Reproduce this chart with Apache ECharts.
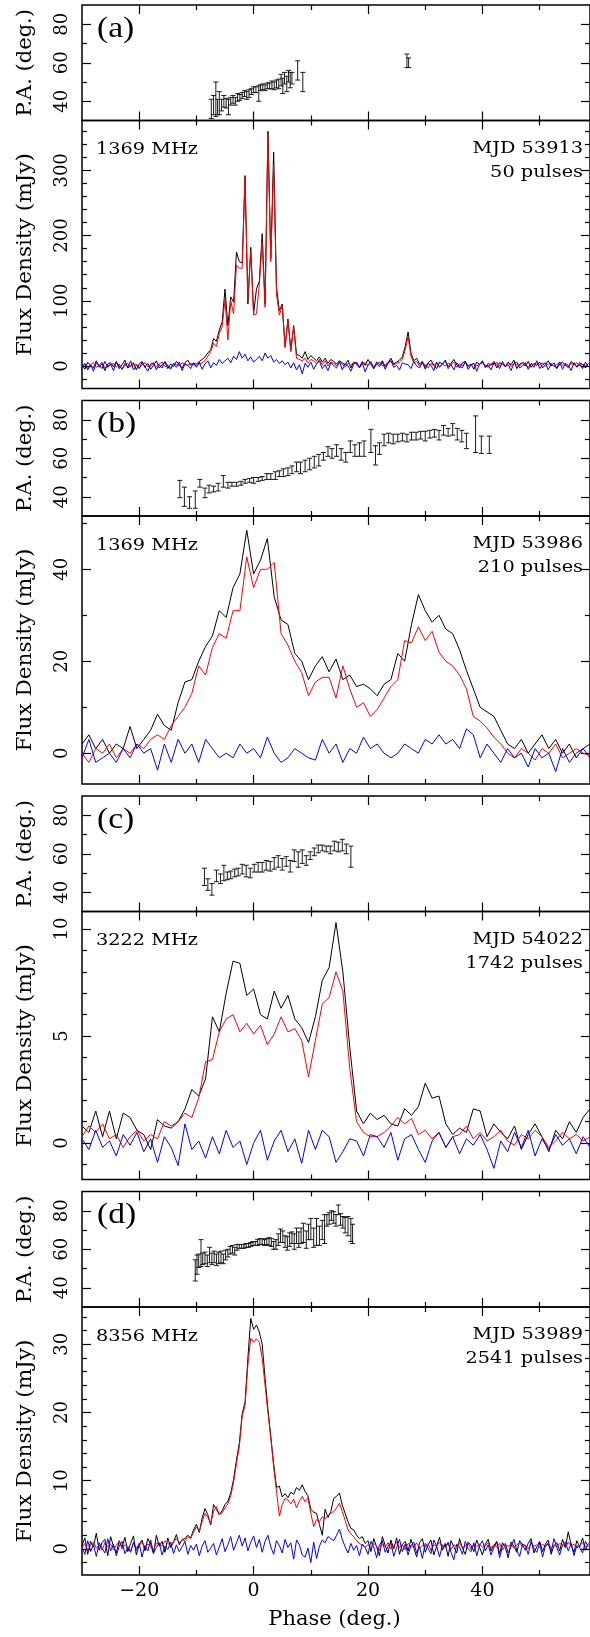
<!DOCTYPE html>
<html><head><meta charset="utf-8">
<script src="https://cdn.jsdelivr.net/npm/echarts@6/dist/echarts.min.js"></script>
<style>html,body{margin:0;padding:0;background:#fff}#c{width:590px;height:1637px}</style>
</head><body><div id="c"></div>
<script>
// ---------------- DATA ----------------
// Phase grids (bin start / bin width, degrees)
const binA = {start: -30, step: 0.5};
const binB = {start: -30, step: 1.2};
const binC = {start: -30, step: 1.2};
const binD = {start: -30, step: 0.5};

// (a) 1369 MHz, MJD 53913 — total intensity (black), linear (red), circular (blue), mJy
const iA = [2,-5,6,1,-3,8,-2,4,-7,3,5,-1,7,-4,2,9,-3,0,5,-6,
 3,7,-2,4,-5,1,8,-3,2,6,-4,3,-1,7,2,-3,5,9,1,4,
 3,7,10,14,20,25,42,38,55,68,118,62,106,98,175,160,158,292,95,182,
 80,118,130,203,95,360,165,328,120,85,95,30,72,25,62,18,16,12,22,10,
 16,12,8,14,6,12,4,10,7,3,8,5,2,9,-3,6,4,-2,7,1,
 10,3,-4,6,2,8,-1,5,12,3,6,9,14,30,52,20,8,12,3,7,
 -2,5,9,1,-4,6,3,8,-1,4,10,2,-3,5,7,0,3,-5,6,2,
 8,-2,4,1,7,-3,5,3,-1,6,2,9,-4,3,5,0,7,-2,4,1,
 6,-3,2,8,0,5,-4,3,6,1,-2,7,3,-1,5,2,-3,4];
const lA = [-1,3,-4,2,5,-2,1,6,-3,0,2,4,-2,3,-5,1,4,-1,2,3,
 -3,2,5,-1,0,4,-2,3,6,-1,1,-3,4,2,0,5,3,1,4,2,
 0,3,5,8,15,22,35,30,50,60,102,40,100,80,155,150,150,288,100,176,
 78,80,125,190,90,355,160,308,110,78,92,28,70,22,60,12,10,8,12,5,
 10,8,4,10,2,8,0,6,4,1,5,3,-2,4,1,6,2,-3,3,5,
 1,4,-1,3,6,0,2,5,8,2,4,6,10,25,45,15,5,7,0,4,
 2,-3,4,1,5,-1,3,0,4,2,6,-2,3,1,5,-1,2,4,0,3,
 5,1,-2,4,2,6,0,3,1,5,-1,4,2,0,6,3,-2,4,1,3,
 2,5,-1,3,4,0,2,6,1,3,-2,4,2,5,0,3,1,2];
const vA = [-3,4,-6,2,-8,5,1,-4,7,-2,3,-7,6,0,-5,4,-2,8,-6,1,
 -4,6,-1,-8,3,5,-6,2,-3,7,0,-5,4,-2,6,-7,3,1,-4,5,
 -2,6,-5,3,8,-3,5,1,10,4,8,12,5,15,10,22,12,18,8,14,
 6,10,15,8,20,12,16,6,10,4,8,2,6,-3,5,-6,2,-12,4,-2,
 6,-5,3,8,-4,2,-7,5,1,-3,7,-6,4,0,-8,3,6,-2,5,-9,
 2,7,-4,3,-1,6,-5,4,8,-2,1,-6,5,3,2,-4,7,0,-3,6,
 -5,4,1,-7,6,-2,3,9,-4,2,-6,5,0,-3,7,-5,2,4,-8,3,
 6,-2,1,-6,5,3,-4,7,-1,2,-7,4,6,-3,0,5,-5,3,-2,8,
 -4,2,5,-6,3,0,-3,6,-5,4,1,-7,5,-2,3,-4,6,-1];

// (b) 1369 MHz, MJD 53986
const iB = [2,4,1,3,0,2,1,5.8,1,3,5,8.5,6,5,11,15.5,16,20,23.2,25.5,
 31,29.5,36,39,48.5,39,42,46.7,34,29,28,21.7,20,16,19,21,17.7,20.5,16,17,
 14.5,15,14,12.5,15,16,21.7,20,28,34.5,31,28.5,30,27,26,22.5,18,14,10,9,
 8,5,2,1,3,0,2,4,1,3,0,2,-1,1,2];
const lB = [0,-2,1,0,2,-1,1,0,2,1,3,4,3,6,8,10,13,19,17,23,
 26,25,31,31,42.7,36,40,40,41.5,26,23.5,20,17.5,12.5,15.5,16.5,16.5,12,19,14,
 10,11,8,9.5,12,14.5,16,24.5,24,27.5,24.5,26.5,22,20,19,17,14,8,7,5.5,
 3.5,2,0,-1,1,0,-1.5,1,0,2,-1,0,1,0,-0.5];
const vB = [-1,3,-2,-1,0,-2,1,-1,2,0,1,-3.7,2,-2,3,0,2,-2,3,1,
 -1,0,-1,2,0,1,-1,3.5,0,-2,-1,1,0,-1,-1.5,3,0,2,-2,1,
 0,3.5,1,2,0,-1,0,2,1,0,3,2,4,2,3,1,5.3,4,-1,2,
 0,-2,1,-1,0,-3,1,-1,0,-4,1,-2,0,1,-1];

// (c) 3222 MHz, MJD 54022
const iC = [0.8,0.5,1.5,0.3,1.5,0.2,1.4,1.2,0.6,0.4,-0.3,1.1,0.8,0.7,1.0,1.6,2.5,2.2,3.0,5.9,
 5.2,7.0,8.5,8.4,6.9,7.2,6.0,5.8,7.1,6.3,6.9,5.8,5.4,4.7,5.9,7.6,8.2,10.3,8.0,4.5,
 1.5,0.9,1.4,1.1,1.3,0.9,0.8,1.6,1.3,1.7,2.8,2.1,2.2,0.9,0.4,0.7,0.5,1.6,1.5,0.3,
 0.9,0.5,0.2,0.8,-0.3,0.4,0.9,0.3,-0.4,0.6,0.2,1.0,0.5,1.2,1.6];
const lC = [0.3,0.8,0.5,0.9,0.2,0.4,-0.2,0.3,0.6,0.1,0.4,0.2,1.0,0.8,1.0,1.4,1.2,2.1,3.8,3.9,
 5.2,5.8,6.0,5.2,5.6,5.1,5.5,4.6,5.1,5.9,5.2,5.35,4.8,3.1,4.8,6.5,6.8,8.0,7.1,3.5,
 1.0,0.5,0.3,0.3,0.5,0.8,1.2,0.9,1.15,0.4,0.6,0.2,0.5,-0.2,0.3,0.4,0.8,0.2,0.5,0.1,
 0.3,0.6,0.1,-0.1,0.4,0.2,0.6,0.3,-0.2,0.1,0.5,0.2,0.4,0.1,0.3];
const vC = [0.2,-0.3,0.6,-0.2,0.1,-0.6,0.4,-0.1,0.5,-0.4,0.2,-0.9,0.3,-0.2,-1.05,0.9,-0.3,0.1,-0.7,0.3,
 -0.5,0.6,-0.2,0.1,-1.0,0.0,0.6,-0.8,0.1,0.6,-0.4,0.2,-0.95,0.6,-0.3,0.6,0.3,-0.9,-0.4,0.2,
 0.1,-0.6,0.4,0.3,-0.2,0.5,-0.8,0.2,0.4,-0.3,-0.9,0.1,0.5,-0.2,0.3,-0.5,0.2,-0.1,0.4,-0.3,
 -1.18,0.1,-0.4,0.5,-0.2,0.6,-0.6,0.2,-0.3,0.4,-0.1,0.2,-0.5,0.3,-0.2];

// (d) 8356 MHz, MJD 53989
const iD = [0.5,1.6,-0.8,1.1,0.3,2.3,-0.2,0.9,1.4,-1.0,1.8,0.4,-0.6,1.2,0.2,1.7,-0.4,0.8,1.9,-0.9,
 0.6,1.3,-0.3,1.5,0.7,-0.7,2.0,0.4,1.1,-0.5,1.6,0.2,1.0,2.1,0.6,1.4,1.5,2.0,1.6,2.8,
 3.6,2.4,4.5,5.9,5.0,3.5,6.5,5.8,5.0,5.6,6.5,7.0,8.2,10.2,13.0,15.5,19.8,21.5,28.0,33.8,
 32.2,32.8,31.8,30.0,25.0,20.5,16.5,12.5,9.0,9.2,7.6,8.1,7.5,8.3,8.0,9.0,8.6,9.4,8.4,7.8,
 5.8,5.4,5.2,3.6,2.0,5.8,4.6,5.5,7.4,7.7,8.2,6.4,5.2,4.0,3.0,2.8,2.0,1.5,1.8,0.8,
 1.2,-0.4,1.5,0.3,-1.0,1.8,0.5,-0.6,1.3,0.0,1.6,-0.8,0.7,1.1,-0.3,1.4,0.2,-1.2,0.9,1.5,
 -0.5,0.6,1.3,-0.9,0.4,1.7,-0.2,0.8,-1.1,1.2,0.3,-0.6,1.5,0.1,-0.8,1.0,0.5,-0.4,1.3,0.2,
 -0.9,0.7,1.4,-0.3,0.5,1.1,-0.7,0.9,0.2,-1.3,1.0,0.4,-0.5,1.2,0.6,-0.2,0.8,1.5,-0.6,0.3,
 1.1,-0.4,0.7,1.3,-0.8,0.5,0.9,-0.3,1.4,0.2,2.5,0.6,-0.5,1.2,0.3,1.6,-0.2,0.8];
const lD = [0.2,0.8,-0.3,0.5,1.0,0.1,0.6,-0.2,0.9,0.3,0.7,-0.1,0.5,1.1,0.0,0.6,0.4,-0.3,0.8,0.2,
 0.5,1.0,0.1,0.7,0.3,-0.2,0.9,0.6,0.4,1.2,0.8,0.5,1.1,1.5,0.9,1.3,1.2,1.8,1.5,2.5,
 3.2,2.6,4.0,5.2,4.6,3.8,5.5,6.2,5.0,5.3,6.0,6.6,7.8,9.8,12.5,15.0,19.5,21.0,27.0,30.9,
 30.3,30.8,30.3,28.0,24.0,20.0,16.3,12.0,8.5,4.8,6.5,7.4,7.2,6.6,7.3,6.0,7.0,7.7,6.9,7.5,
 5.2,3.3,4.3,4.0,4.7,4.4,4.9,5.2,5.5,6.0,6.7,5.5,4.2,2.8,2.2,1.8,1.2,0.8,0.5,0.3,
 0.6,0.1,0.8,0.4,-0.2,0.7,0.3,0.9,0.0,0.5,1.0,0.2,0.6,-0.1,0.8,0.4,0.2,0.9,0.1,0.5,
 0.3,0.8,-0.2,0.6,0.4,1.0,0.1,0.5,0.7,-0.1,0.6,0.3,0.9,0.2,0.4,0.8,0.0,0.6,0.3,0.7,
 0.2,0.5,0.9,0.1,0.6,0.3,0.8,-0.2,0.5,0.4,0.7,0.1,0.6,0.9,0.3,0.5,0.0,0.8,0.4,0.6,
 0.2,0.7,0.4,0.9,0.1,0.5,0.3,0.8,0.6,0.2,1.0,0.4,0.7,0.1,0.5,0.9,0.3,0.6];
const vD = [0.3,-0.8,1.2,-0.4,0.6,-1.1,0.9,0.1,-0.6,1.5,-0.3,0.7,-1.0,0.4,1.1,-0.7,0.2,-0.5,1.0,-0.2,
 0.8,-1.2,0.5,-0.3,1.3,-0.6,0.2,0.9,-0.9,0.4,-0.1,1.0,-0.7,0.6,-0.4,0.3,1.1,-0.8,0.5,-0.2,
 0.7,-1.0,0.4,1.2,-0.5,0.1,0.8,-0.9,0.3,1.5,-0.4,0.6,1.8,-0.2,0.9,2.0,0.4,1.6,-0.3,1.0,
 1.9,0.2,1.4,-0.5,1.1,2.0,0.3,-0.8,1.2,0.5,-0.6,1.4,0.2,0.9,-1.5,1.3,0.6,-0.9,-1.2,0.1,
 -2.0,1.0,-1.4,0.4,1.3,0.9,1.8,1.5,1.2,2.0,2.9,1.4,0.3,-0.6,0.8,-0.2,0.5,-1.0,0.7,0.2,
 -0.8,1.1,0.3,-1.3,0.6,1.2,-0.5,0.4,0.9,-1.1,0.2,1.4,-0.4,0.7,-0.9,0.5,1.0,-0.6,0.3,-1.4,
 0.8,0.1,-0.7,1.3,0.4,-1.2,0.6,0.2,1.0,-0.5,-1.6,0.7,0.3,-0.8,1.1,0.0,-0.4,0.9,-1.0,0.5,
 1.2,-0.3,0.6,-0.9,0.2,1.0,-1.3,0.4,0.8,-0.6,0.3,1.4,-0.2,-1.1,0.7,0.5,-0.8,1.1,0.1,-0.5,
 0.9,-1.2,0.4,0.7,-0.4,1.5,0.2,-0.9,0.6,1.0,-0.3,0.8,-1.0,0.5,0.2,-0.6,1.1,0.3];

// Position angle points: phase (deg), PA (deg), error (deg)
const paA_phase = [-7.4,-7.0,-6.6,-6.3,-6.0,-5.6,-5.2,-4.8,-4.4,-4.0,-3.6,-3.2,-2.8,-2.4,-2.0,-1.6,-1.2,-0.8,-0.4,0.0,0.4,0.9,1.2,1.6,2.0,2.4,2.8,3.2,3.6,4.0,4.4,4.8,5.1,5.4,5.8,6.1,6.4,6.7,7.7,8.6,26.8,27.1];
const paA_val   = [36,38,41,37,39,38,40,39,37,40,41,40,42,42,43,44,43,44,45,46,46,44,47,47.5,47,48,48,48.5,48,49,49,51,48,52,49,53,51,52,56,50,61,60];
const paA_err   = [5,5,9,4,6,3,3,2.5,4,2,2,2,2,1.5,1.5,1.5,2,2,1.5,1.5,1.5,4,1.5,1.5,1.5,1.5,1.5,2,2,2,2.5,3,4,3,4,3,4,3,5,5,3.5,2.5];

const paB_phase = [-12.9,-12.1,-11.2,-10.2,-9.4,-8.5,-7.8,-7.0,-6.2,-5.3,-4.5,-3.8,-3.0,-2.2,-1.5,-0.7,0.0,0.8,1.5,2.3,3.0,3.8,4.5,5.2,6.0,6.7,7.5,8.2,9.0,9.8,10.6,11.4,12.2,13.0,13.7,14.5,15.3,16.1,16.9,17.7,18.5,19.3,20.5,21.3,22.0,22.8,23.6,24.4,25.2,26.0,26.8,27.6,28.4,29.2,30.0,30.8,31.6,32.4,33.2,34.0,34.8,35.6,36.4,37.2,38.8,39.8,41.2];
const paB_val   = [44,40,37,38.5,47,42,44,44,45,48,46,46.5,46.5,47,48,48.5,48.5,49,49.5,50.5,50.5,51,52,52.5,53,54,55.5,55,56,57,58,59,61,63.5,62.5,64,62,60.5,66,64,64.5,65,69,61.5,65,69.5,70.5,70,70.5,71,70.5,71.5,71.5,72,71.5,72.5,73,72,74.5,73.5,75,72.5,71.5,69,72.5,67,67];
const paB_err   = [4.5,5,3,4.5,2,2.5,2,1.5,2,3,1.5,1,1,1,1,1,1.5,1,1,1.5,1.5,2,1.5,2,2,2,2.5,3,3,3,3,3,2,2.5,2.5,3,3,2.5,3,3,3.5,4,6,5,3,3,2.5,2.5,2,2,2,2,2,2,2.5,2,2,2.5,2.5,2,3,3,3,4,9.5,4.5,4.5];

const paC_phase = [-8.6,-8.0,-7.3,-6.5,-5.8,-5.2,-4.6,-4.0,-3.3,-2.7,-2.0,-1.3,-0.6,0.1,0.8,1.5,2.2,2.9,3.6,4.3,5.0,5.7,6.4,7.1,7.8,8.5,9.2,9.9,10.6,11.3,12.0,12.7,13.4,14.1,14.8,15.5,16.2,17.0];
const paC_val   = [48,44,41.5,48.5,47,50,48.5,49,50,50.5,52,51,50,52.5,53,53,54,53.5,55,56,54.5,56,53.5,59,57,58.5,56.5,59,61,62.5,63,62.5,62,64,63.5,64.5,62.5,58.5];
const paC_err   = [4.5,3,3,3,2.5,4,2,2,2,2,2.5,3,2.5,2,2.5,2.5,2.5,2.5,3,3,3,2.5,3,3,4,3.5,2.5,2,2,2,1.5,1.5,2,2.5,2.5,3,2.5,5.5];

const paD_phase = [-10.2,-9.9,-9.6,-9.2,-8.9,-8.5,-8.1,-7.7,-7.3,-6.9,-6.5,-6.1,-5.7,-5.3,-4.9,-4.5,-4.1,-3.7,-3.3,-2.9,-2.5,-2.1,-1.7,-1.3,-0.9,-0.5,-0.1,0.3,0.7,1.1,1.5,1.9,2.3,2.7,3.1,3.5,3.9,4.3,4.7,5.1,5.5,5.9,6.3,6.7,7.1,7.5,7.9,8.3,8.7,9.2,9.6,10.0,10.5,11.0,11.5,12.0,12.4,12.8,13.2,13.6,14.0,14.4,14.8,15.2,15.6,16.0,16.5,17.0,17.3];
const paD_val   = [49,52,54,58,55,55.5,54,57,55,56,54.5,55.5,56,55,57,58,59.5,60,59,61,61.5,61.5,61.5,62,62,62.5,63,63,63.5,64,64,63.5,64,64,63.5,62,62.5,65,67,66.5,64,63,65,66,64,67,65,67,68.5,65,69,70.5,66,69,67,70,70.5,75,76,77.5,76.5,75,80.5,75.5,74,72.5,72,70,68];
const paD_err   = [5.5,5,3.5,7,3,3,3,4,3,3,3,3,3,2.5,2.5,2,2,2,2,1.5,1,1,1,1,1,1,1,1,1.5,1.5,1.5,1.5,1.5,2,2,2,2.5,3,3.5,3,3,3.5,3.5,3,4,4,4,4,5,4.5,4,5.5,5,7,5,5,7.5,3,3,2.5,3,3,2.5,3,3,4,5,6,5];

// Axis ticks / labels
const xMajor = [-20, 0, 20, 40];
const xMinor = [-10, 10, 30, 50];
const paMajor = [40, 60, 80];
const paMinor = [50, 70];
const fluxMajor = [[0,100,200,300],[0,20,40],[0,5,10],[0,10,20,30]];
const fluxMinor = [[-20,20,40,60,80,120,140,160,180,220,240,260,280,320,340,360],[10,30,50],[-1,1,2,3,4,6,7,8,9],[-2,2,4,6,8,12,14,16,18,22,24,26,28,32,34]];
const fluxRange = [[-34.5,376.5],[-6.7,51.6],[-1.7,10.82],[-3.83,35.47]];
const letters = ['(a)','(b)','(c)','(d)'];
const freqs = ['1369 MHz','1369 MHz','3222 MHz','8356 MHz'];
const mjds = ['MJD 53913','MJD 53986','MJD 54022','MJD 53989'];
const pulses = ['50 pulses','210 pulses','1742 pulses','2541 pulses'];
const xName = 'Phase (deg.)';
const paName = 'P.A. (deg.)';
const fluxName = 'Flux Density (mJy)';

// ---------------- LAYOUT ----------------
const X_MIN = -30, X_MAX = 58.8;
const GL = 82, GW = 509;
const paTops = [5, 400.5, 796, 1191.5];
const PA_H = 115.5, FLUX_H = 268;
const FONT = '"DejaVu Serif", serif';

const fluxSets = [
  {bin: binA, I: iA, L: lA, V: vA},
  {bin: binB, I: iB, L: lB, V: vB},
  {bin: binC, I: iC, L: lC, V: vC},
  {bin: binD, I: iD, L: lD, V: vD}
];
const paSets = [
  [paA_phase, paA_val, paA_err],
  [paB_phase, paB_val, paB_err],
  [paC_phase, paC_val, paC_err],
  [paD_phase, paD_val, paD_err]
];

const grids = [], xAxes = [], yAxes = [], series = [], graphics = [];
const minus = v => v < 0 ? '\u2212' + (-v) : String(v);

function addGrid(top, height, yMin, yMax, yMaj, yMin2, showXLabels) {
  const gi = grids.length;
  grids.push({left: GL, width: GW, top: top, height: height, show: true,
    borderColor: '#000', borderWidth: 1.5, backgroundColor: 'transparent', containLabel: false});
  const noLine = {show: false, onZero: false};
  const xb = {gridIndex: gi, type: 'value', min: X_MIN, max: X_MAX, splitLine: {show: false}, axisLine: noLine};
  const xMainIdx = xAxes.length;
  const tickStyle = {color: '#000', width: 1.2};
  xAxes.push(Object.assign({}, xb, {position: 'bottom',
    axisTick: {show: true, inside: true, length: 9, customValues: xMajor, lineStyle: tickStyle},
    axisLabel: {show: showXLabels, customValues: xMajor, formatter: minus, color: '#000', fontFamily: FONT, fontSize: 19, margin: 7}}));
  xAxes.push(Object.assign({}, xb, {position: 'bottom',
    axisTick: {show: true, inside: true, length: 5, customValues: xMinor, lineStyle: tickStyle}, axisLabel: {show: false}}));
  xAxes.push(Object.assign({}, xb, {position: 'top',
    axisTick: {show: true, inside: true, length: 9, customValues: xMajor, lineStyle: tickStyle}, axisLabel: {show: false}}));
  xAxes.push(Object.assign({}, xb, {position: 'top',
    axisTick: {show: true, inside: true, length: 5, customValues: xMinor, lineStyle: tickStyle}, axisLabel: {show: false}}));
  const yb = {gridIndex: gi, type: 'value', min: yMin, max: yMax, splitLine: {show: false}, axisLine: noLine};
  const yMainIdx = yAxes.length;
  yAxes.push(Object.assign({}, yb, {position: 'left',
    axisTick: {show: true, inside: true, length: 9, customValues: yMaj, lineStyle: tickStyle},
    axisLabel: {show: true, customValues: yMaj, rotate: 90, formatter: minus, color: '#000', fontFamily: FONT, fontSize: 18, margin: 11}}));
  yAxes.push(Object.assign({}, yb, {position: 'left',
    axisTick: {show: true, inside: true, length: 5, customValues: yMin2, lineStyle: tickStyle}, axisLabel: {show: false}}));
  yAxes.push(Object.assign({}, yb, {position: 'right',
    axisTick: {show: true, inside: true, length: 9, customValues: yMaj, lineStyle: tickStyle}, axisLabel: {show: false}}));
  yAxes.push(Object.assign({}, yb, {position: 'right',
    axisTick: {show: true, inside: true, length: 5, customValues: yMin2, lineStyle: tickStyle}, axisLabel: {show: false}}));
  return {x: xMainIdx, y: yMainIdx};
}

function errRender(params, api) {
  const x = api.value(0), v = api.value(1), e = api.value(2);
  const t = api.coord([x, v + e]);
  const b = api.coord([x, v - e]);
  const cw = 2.5;
  const st = {stroke: '#1a1a1a', lineWidth: 1};
  return {type: 'group', children: [
    {type: 'line', shape: {x1: t[0], y1: t[1], x2: b[0], y2: b[1]}, style: st},
    {type: 'line', shape: {x1: t[0] - cw, y1: t[1], x2: t[0] + cw, y2: t[1]}, style: st},
    {type: 'line', shape: {x1: b[0] - cw, y1: b[1], x2: b[0] + cw, y2: b[1]}, style: st}
  ]};
}

function txt(x, y, s, size, align, rot, family, sx) {
  graphics.push({type: 'text', x: x, y: y, rotation: rot || 0, scaleX: sx || 1, z: 100,
    style: {text: s, fontFamily: family || FONT, fontSize: size, fill: '#000',
      textAlign: align, textVerticalAlign: 'middle', align: align, verticalAlign: 'middle'}});
}

for (let p = 0; p < 4; p++) {
  const paTop = paTops[p];
  const fluxTop = paTop + PA_H;
  // PA panel
  const a1 = addGrid(paTop, PA_H, 30, 90, paMajor, paMinor, false);
  const ps = paSets[p];
  series.push({type: 'custom', xAxisIndex: a1.x, yAxisIndex: a1.y, renderItem: errRender,
    encode: {x: 0, y: 1}, clip: true,
    data: ps[0].map((ph, i) => [ph, ps[1][i], ps[2][i]])});
  // Flux panel
  const a2 = addGrid(fluxTop, FLUX_H, fluxRange[p][0], fluxRange[p][1], fluxMajor[p], fluxMinor[p], p === 3);
  const fs = fluxSets[p];
  const toXY = arr => arr.map((v, i) => [fs.bin.start + i * fs.bin.step, v]);
  [[fs.I, '#000000'], [fs.L, '#ff0000'], [fs.V, '#0000ff']].forEach(([arr, col]) => {
    series.push({type: 'line', xAxisIndex: a2.x, yAxisIndex: a2.y, data: toXY(arr),
      showSymbol: false, symbol: 'none', clip: true, silent: true,
      lineStyle: {color: col, width: 1}, itemStyle: {color: col}});
  });
  // Texts
  txt(97, paTop + 24, letters[p], 30, 'left', 0, '"Liberation Serif", serif', 1.12);
  txt(96, fluxTop + 29.5, freqs[p], 16.5, 'left', 0, FONT, 1.17);
  txt(583, fluxTop + 28, mjds[p], 16.5, 'right', 0, FONT, 1.17);
  txt(583, fluxTop + 52, pulses[p], 16.5, 'right', 0, FONT, 1.17);
  txt(26, paTop + PA_H / 2, paName, 20, 'center', Math.PI / 2, FONT, 1.05);
  txt(26, fluxTop + FLUX_H / 2, fluxName, 20, 'center', Math.PI / 2, FONT, 1.08);
}
txt(GL + GW / 2 - 2, 1620, xName, 20, 'center', 0, FONT, 1.05);

const chart = echarts.init(document.getElementById('c'), null, {renderer: 'canvas'});
chart.setOption({
  animation: false,
  backgroundColor: '#ffffff',
  grid: grids, xAxis: xAxes, yAxis: yAxes, series: series, graphic: graphics
});
</script></body></html>
